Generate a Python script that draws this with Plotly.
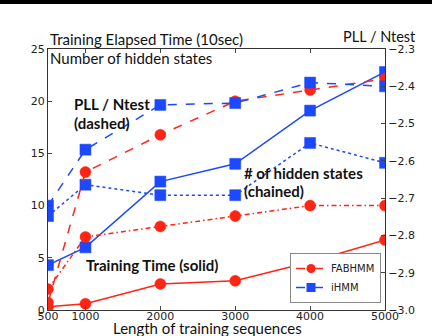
import plotly.graph_objects as go

lengths = [500, 1000, 2000, 3000, 4000, 5000]
x_ticks = [500, 1000, 2000, 3000, 4000, 5000]

fab_time = [0.3, 0.6, 2.5, 2.8, 4.6, 6.7]
ihmm_time = [4.3, 6.0, 12.3, 14.0, 19.1, 22.8]
fab_states = [2, 7, 8, 9, 10, 10]
ihmm_states = [9, 12, 11, 11, 16, 14.1]
fab_pll = [-2.98, -2.63, -2.53, -2.44, -2.41, -2.38]
ihmm_pll = [-2.72, -2.57, -2.45, -2.445, -2.39, -2.40]

RED = "#ff2414"
BLUE = "#1c48ff"

W, H = 432, 336
L, R, T, B = 48, 385, 49, 310


def px(x):
    return (x - L) / (R - L)


def py(y):
    return (B - y) / (B - T)


fig = go.Figure()

def add(xv, yv, color, dash, symbol, axis, width=1.5):
    fig.add_trace(go.Scatter(
        x=xv, y=yv, mode="lines+markers", yaxis=axis, showlegend=False,
        cliponaxis=True,
        line=dict(color=color, dash=dash, width=width),
        marker=dict(color=color, symbol=symbol, size=11,
                    line=dict(color=color, width=0.5)),
    ))

add(lengths, fab_time, RED, "solid", "circle", "y")
add(lengths, ihmm_time, BLUE, "solid", "square", "y")
add(lengths, fab_states, RED, "5px,3px,1.5px,3px", "circle", "y")
add(lengths, ihmm_states, BLUE, "dot", "square", "y")
add(lengths, fab_pll, RED, "dash", "circle", "y2")
add(lengths, ihmm_pll, BLUE, "dash", "square", "y2")

for name, color, symbol in [("FABHMM", RED, "circle"), ("iHMM", BLUE, "square")]:
    fig.add_trace(go.Scatter(
        x=[None], y=[None], mode="lines+markers", name=name,
        line=dict(color=color, dash="dash", width=1.5),
        marker=dict(color=color, symbol=symbol, size=9),
    ))

tickfont = dict(family="DejaVu Sans", size=11, color="#222")
fig.update_layout(
    width=W, height=H,
    margin=dict(l=L, r=W - R, t=T, b=H - B, autoexpand=False),
    paper_bgcolor="white", plot_bgcolor="white",
    xaxis=dict(range=[500, 5000], tickvals=x_ticks, ticks="inside", ticklen=4,
               showgrid=False, zeroline=False, showline=True, linecolor="#333",
               linewidth=1, mirror="ticks", tickfont=tickfont, automargin=False,
               ticklabelstandoff=-4),
    yaxis=dict(range=[0, 25], tickvals=[0, 5, 10, 15, 20, 25], ticks="inside",
               ticklen=4, showgrid=False, zeroline=False, showline=True,
               linecolor="#333", linewidth=1, tickfont=tickfont,
               automargin=False),
    yaxis2=dict(range=[-3.0, -2.3], overlaying="y", side="right",
                tickvals=[-3.0, -2.9, -2.8, -2.7, -2.6, -2.5, -2.4, -2.3],
                ticktext=["\u22123.0", "\u22122.9", "\u22122.8", "\u22122.7",
                          "\u22122.6", "\u22122.5", "\u22122.4", "\u22122.3"],
                ticks="inside", ticklen=4, showgrid=False, zeroline=False,
                showline=True, linecolor="#333", linewidth=1, tickfont=tickfont,
                automargin=False),
    legend=dict(x=px(381), y=py(303), xanchor="right", yanchor="bottom",
                bgcolor="white", bordercolor="#888", borderwidth=1,
                font=dict(family="DejaVu Sans", size=10, color="#222"),
                itemwidth=30, tracegroupgap=0),
)

def ann(text, x, y, size=13, bold=False, xanchor="left", fam="Lato"):
    fig.add_annotation(
        text=f"<b>{text}</b>" if bold else text,
        x=px(x), y=py(y), xref="paper", yref="paper",
        xanchor=xanchor, yanchor="middle", showarrow=False,
        font=dict(family=fam, size=size, color="#111"),
    )

ann("Training Elapsed Time (10sec)", 48, 39, 15)
ann("Number of hidden states", 48, 58, 15)
ann("PLL / Ntest", 418, 36, 14.5, xanchor="right")
ann("PLL / Ntest", 72, 104, 15, bold=True)
ann("(dashed)", 72, 123, 15, bold=True)
ann("# of hidden states", 242, 173, 15, bold=True)
ann("(chained)", 242, 191, 15, bold=True)
ann("Training Time (solid)", 84, 265, 15, bold=True)
ann("Length of training sequences", 207, 328, 15, xanchor="center")

fig.add_shape(type="rect", xref="paper", yref="paper",
              x0=px(-5), x1=px(W + 5), y0=py(4), y1=py(-6),
              fillcolor="black", line=dict(width=0), layer="above")

fig.write_html(
    "out.html",
    config={"displayModeBar": False},
    post_script="document.body.style.margin='0';document.body.style.overflow='hidden';",
)
